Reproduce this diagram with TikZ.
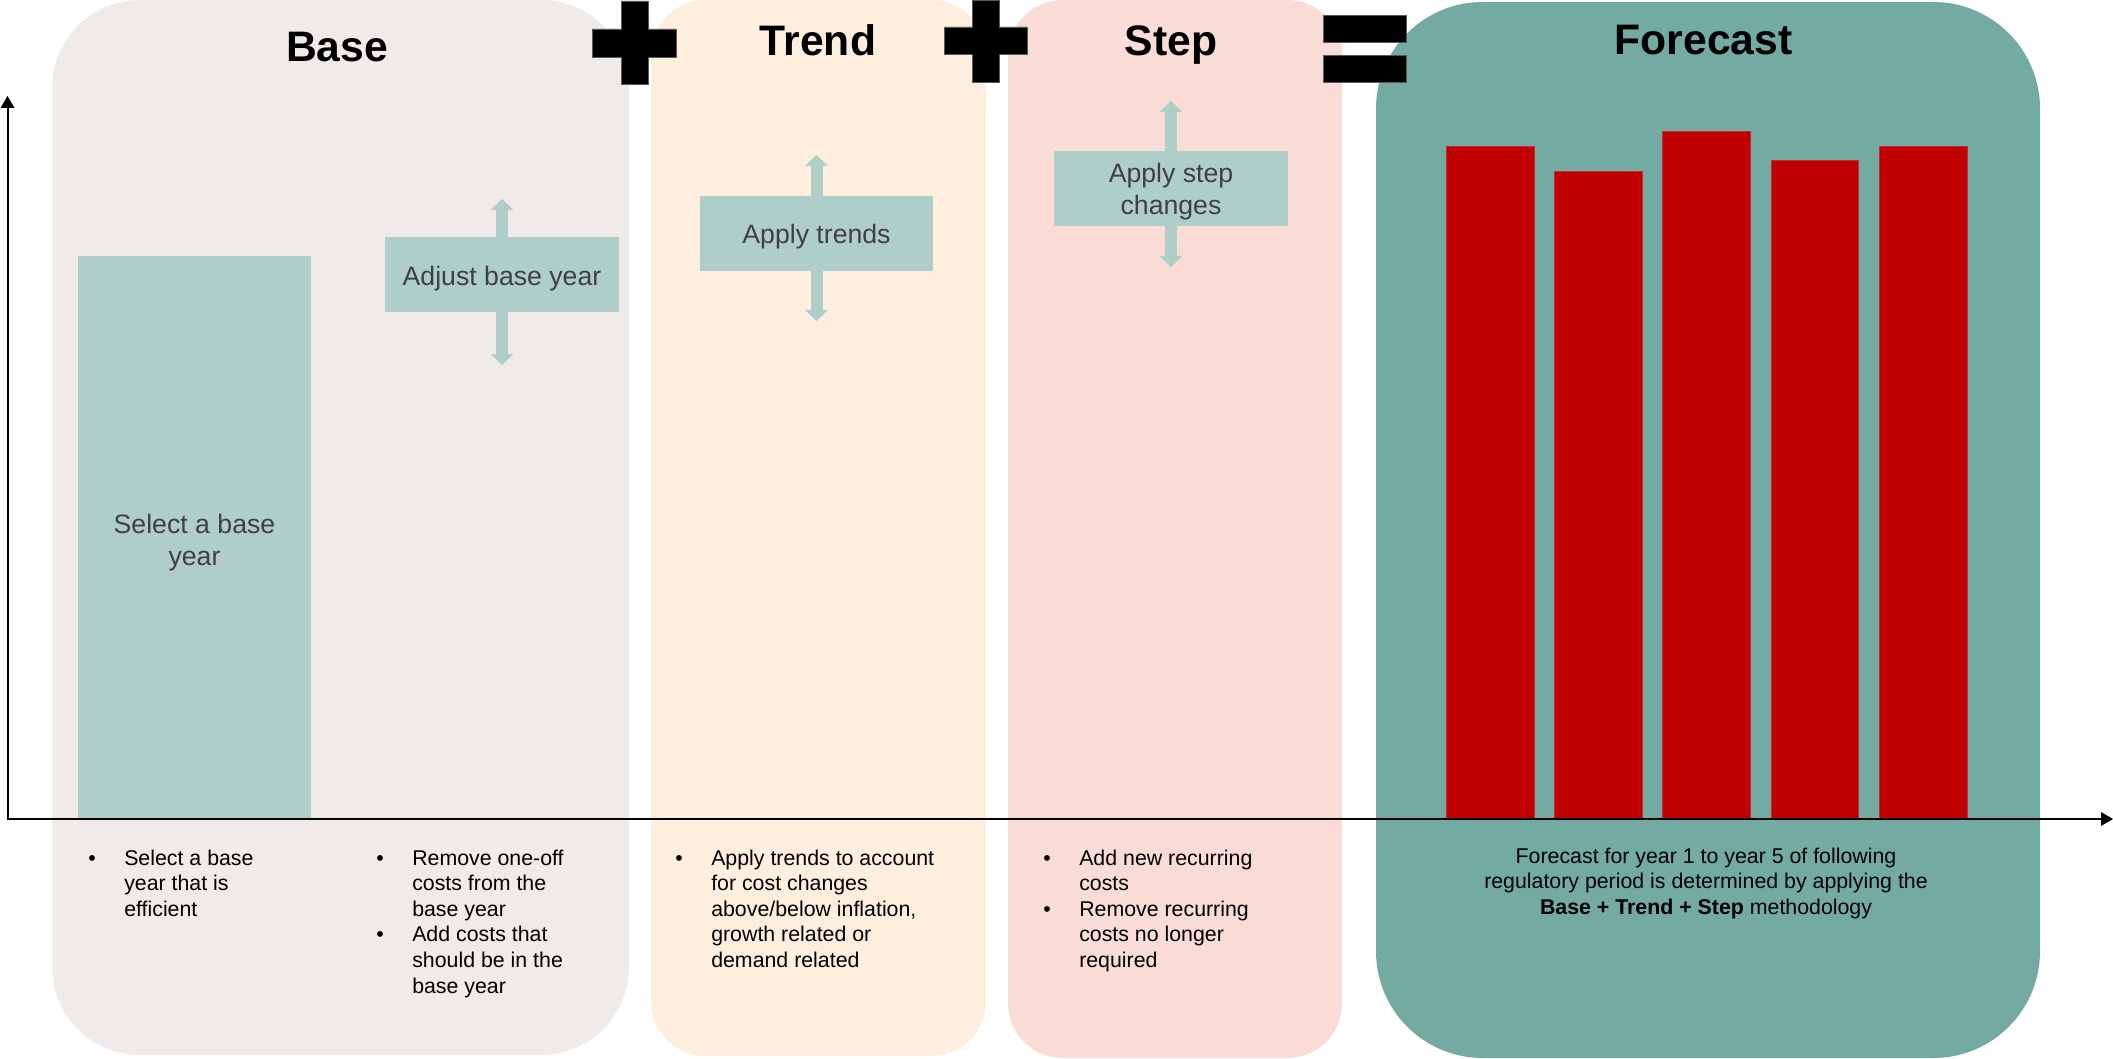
\documentclass[tikz,border=0pt]{standalone}
\usepackage{fontspec}
\setmainfont{Liberation Sans}
\usetikzlibrary{arrows.meta}

\definecolor{basefill}{HTML}{F0EBE8}
\definecolor{trendfill}{HTML}{FEEEDD}
\definecolor{stepfill}{HTML}{FADCD6}
\definecolor{forecastfill}{HTML}{73ABA3}
\definecolor{tealfill}{HTML}{AFCECA}
\definecolor{barred}{HTML}{C00000}
\definecolor{baredge}{HTML}{C8283C}
\definecolor{boxtext}{HTML}{404040}

\begin{document}
\begin{tikzpicture}[x=0.75pt,y=-0.75pt,
  tealbox/.style={fill=tealfill, inner sep=0pt},
  boxlabel/.style={inner sep=0pt, text=boxtext,
    font=\fontsize{20}{24}\selectfont, align=center},
  paneltitle/.style={font=\fontsize{32}{38}\selectfont\bfseries, anchor=base, inner sep=0pt},
  bullets/.style={anchor=base west, inner sep=0pt, font=\fontsize{16}{19.2}\selectfont},
  bar/.style={fill=barred, draw=baredge, line width=0.6pt},
  opsign/.style={fill=black, draw=black!65, line width=0.4pt},
  moveline/.style={draw=tealfill, line width=9pt,
    -{Triangle[length=8.25pt,width=17.25pt,line width=0pt]}},
  axisline/.style={line width=1.5pt,
    -{Triangle[length=9pt,width=10.5pt,line width=0pt]}}
]
\useasboundingbox (0,0) rectangle (2113,1059);

% column panels
\fill[basefill, rounded corners=66pt] (52,0) rectangle (629,1055);
\fill[trendfill, rounded corners=41pt] (651,0) rectangle (986,1056);
\fill[stepfill, rounded corners=41pt] (1008,0) rectangle (1342,1058);
\fill[forecastfill, rounded corners=80pt] (1376,2) rectangle (2040,1058);

% operator signs: plus, plus, equals
\path[opsign] (592,29) -- (621,29) -- (621,1) -- (648,1) -- (648,29) -- (676,29)
  -- (676,57) -- (648,57) -- (648,84) -- (621,84) -- (621,57) -- (592,57) -- cycle;
\path[opsign] (944,27) -- (972,27) -- (972,0) -- (999,0) -- (999,27) -- (1027,27)
  -- (1027,54) -- (999,54) -- (999,82) -- (972,82) -- (972,54) -- (944,54) -- cycle;
\path[opsign] (1323,15) rectangle (1406,42);
\path[opsign] (1323,55) rectangle (1406,82);

% titles
\node[paneltitle] (tbase) at (337,62) {Base};
\node[paneltitle] (ttrend) at (818,56) {Trend};
\node[paneltitle] (tstep) at (1171,56) {Step};
\node[paneltitle] (tforecast) at (1703.5,55) {Forecast};

% base year bar
\node[tealbox, minimum width=174.75pt, minimum height=421.5pt] (basebar) at (194.5,537) {};
\node[boxlabel] (basebartext) at ([yshift=-4pt]basebar.center) {Select a base\\year};

% adjustment boxes with their up/down arrows
\node[tealbox, minimum width=175.5pt, minimum height=56.25pt] (adjbox) at (502,274.5) {};
\node[boxlabel] (adjtext) at ([yshift=-3pt]adjbox.center) {Adjust base year};
\coordinate (adjup) at (502,199);
\coordinate (adjdown) at (502,365);
\draw[moveline] (adjbox.north) -- (adjup);
\draw[moveline] (adjbox.south) -- (adjdown);

\node[tealbox, minimum width=174.75pt, minimum height=56.25pt] (trendbox) at (816.5,233.5) {};
\node[boxlabel] (trendtext) at ([yshift=-2.5pt]trendbox.center) {Apply trends};
\coordinate (trendup) at (816.5,155);
\coordinate (trenddown) at (816.5,321);
\draw[moveline] (trendbox.north) -- (trendup);
\draw[moveline] (trendbox.south) -- (trenddown);

\node[tealbox, minimum width=175.1pt, minimum height=56.25pt] (stepbox) at (1171,188.5) {};
\node[boxlabel] (steptext) at ([yshift=-2.5pt]stepbox.center) {Apply step\\changes};
\coordinate (stepup) at (1171,101);
\coordinate (stepdown) at (1171,267);
\draw[moveline] (stepbox.north) -- (stepup);
\draw[moveline] (stepbox.south) -- (stepdown);

% forecast bars for years 1 to 5
\path[bar] (1446,146) rectangle (1534,818);
\path[bar] (1554,171) rectangle (1642,818);
\path[bar] (1662,131) rectangle (1750,818);
\path[bar] (1771,160) rectangle (1858,818);
\path[bar] (1879,146) rectangle (1967,818);

% axes
\coordinate (origin) at (7.5,819);
\coordinate (ytip) at (7.5,96);
\coordinate (xtip) at (2113,819);
\draw[axisline] ([yshift=-0.75pt]origin) -- (ytip);
\draw[axisline, line width=2pt] ([xshift=-0.75pt]origin) -- (xtip);

% explanatory bullets
\node[bullets] (bselect) at (88,865)
  {\begin{tabular}[t]{@{}p{27pt}@{}l@{}}
   \textbullet & Select a base\\ & year that is\\ & efficient
   \end{tabular}};
\node[bullets] (badjust) at (376,865)
  {\begin{tabular}[t]{@{}p{27pt}@{}l@{}}
   \textbullet & Remove one-off\\ & costs from the\\ & base year\\
   \textbullet & Add costs that\\ & should be in the\\ & base year
   \end{tabular}};
\node[bullets] (btrend) at (675,865)
  {\begin{tabular}[t]{@{}p{27pt}@{}l@{}}
   \textbullet & Apply trends to account\\ & for cost changes\\
   & above/below inflation,\\ & growth related or\\ & demand related
   \end{tabular}};
\node[bullets] (bstep) at (1043,865)
  {\begin{tabular}[t]{@{}p{27pt}@{}l@{}}
   \textbullet & Add new recurring\\ & costs\\
   \textbullet & Remove recurring\\ & costs no longer\\ & required
   \end{tabular}};
\node[bullets, anchor=base] (bforecast) at (1706,863)
  {\begin{tabular}[t]{@{}c@{}}
   Forecast for year 1 to year 5 of following\\
   regulatory period is determined by applying the\\
   \textbf{Base + Trend + Step} methodology
   \end{tabular}};
\end{tikzpicture}
\end{document}
